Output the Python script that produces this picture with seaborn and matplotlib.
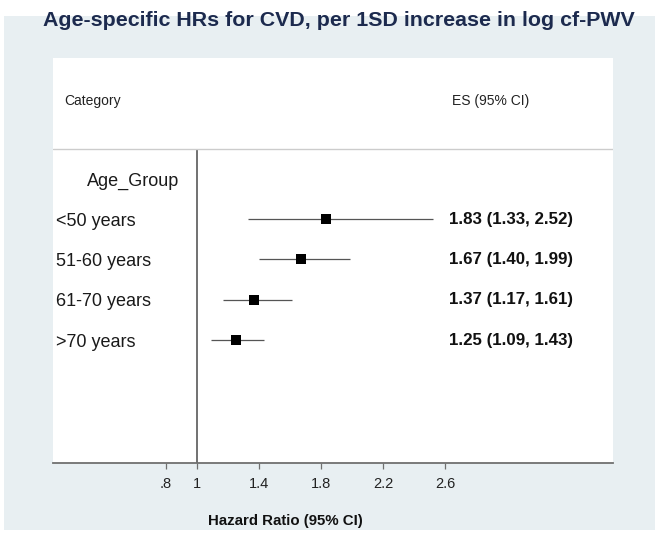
import numpy as np
import pandas as pd
import matplotlib
matplotlib.use("Agg")
import matplotlib.pyplot as plt
import seaborn as sns
from matplotlib.patches import Rectangle

# data
groups = ["<50 years", "51-60 years", "61-70 years", ">70 years"]
hr = [1.83, 1.67, 1.37, 1.25]
ci_low = [1.33, 1.40, 1.17, 1.09]
ci_high = [2.52, 1.99, 1.61, 1.43]
es_text = ["1.83 (1.33, 2.52)", "1.67 (1.40, 1.99)", "1.37 (1.17, 1.61)", "1.25 (1.09, 1.43)"]
tick_vals = [0.8, 1, 1.4, 1.8, 2.2, 2.6]
tick_labels = [".8", "1", "1.4", "1.8", "2.2", "2.6"]

sns.set_theme(style="white")
plt.rcParams["font.family"] = ["Liberation Sans", "DejaVu Sans"]

BG = "#e8eff2"
NAVY = "#1c2a4e"
GREY = "#707070"

df = pd.DataFrame({"group": groups, "hr": hr, "lo": ci_low, "hi": ci_high})
df["row"] = np.arange(len(df)) + 4

fig = plt.figure(figsize=(6.61, 5.36), dpi=100, facecolor="white")
fig.patches.append(Rectangle((4 / 661, 1 - 530 / 536), 651 / 661, 514 / 536,
                             transform=fig.transFigure, facecolor=BG,
                             edgecolor="none", zorder=-10))
ax = fig.add_axes([53 / 661, 1 - 463 / 536, 560 / 661, 405 / 536])
ax.set_zorder(5)
ax.set_facecolor("white")

# confidence intervals and point estimates
ax.hlines(df["row"], df["lo"], df["hi"], color="#555555", linewidth=0.9, zorder=2)
sns.scatterplot(data=df, x="hr", y="row", marker="s", s=62, color="black",
                linewidth=0, ax=ax, zorder=3, legend=False)

ax.set_xlim(0.071, 3.684)
ax.set_ylim(10.05, 0)

# reference line at 1 and header separator
ax.vlines(1, 2.25, 10.05, color="#666666", linewidth=1.3, zorder=1)
ax.axhline(2.25, color="#cccccc", linewidth=1.0, zorder=1)

# text columns
trans = ax.get_yaxis_transform()
ax.text(0.02, 1.07, "Category", transform=trans, fontsize=10, va="center", color="#222222")
ax.text(0.7125, 1.07, "ES (95% CI)", transform=trans, fontsize=10, va="center", color="#222222")
ax.text(0.061, 3.05, "Age_Group", transform=trans, fontsize=13, va="center", color="#1a1a1a")
for r, g, t in zip(df["row"], groups, es_text):
    ax.text(0.005, r + 0.05, g, transform=trans, fontsize=13, va="center", color="#1a1a1a")
    ax.text(0.707, r, t, transform=trans, fontsize=12.2, fontweight="bold",
            va="center", color="#111111")

# axes styling
for s in ["top", "right", "left"]:
    ax.spines[s].set_visible(False)
ax.spines["bottom"].set_color(GREY)
ax.spines["bottom"].set_linewidth(1.3)
ax.set_yticks([])
ax.set_xticks(tick_vals)
ax.set_xticklabels(tick_labels, fontsize=10.5, color="#222222")
ax.tick_params(axis="x", direction="out", length=4, width=0.9, color=GREY, pad=6, bottom=True)
ax.set_xlabel("Hazard Ratio (95% CI)", fontsize=10.8, fontweight="bold", color="#111111")
ax.set_ylabel("")
ax.xaxis.set_label_coords((285 - 53) / 560, -0.125)

fig.text(339 / 661, 1 - 21 / 536, "Age-specific HRs for CVD, per 1SD increase in log cf-PWV",
         ha="center", va="center", fontsize=15.4, fontweight="bold", color=NAVY)

fig.savefig("out.png", dpi=100, facecolor="white")
